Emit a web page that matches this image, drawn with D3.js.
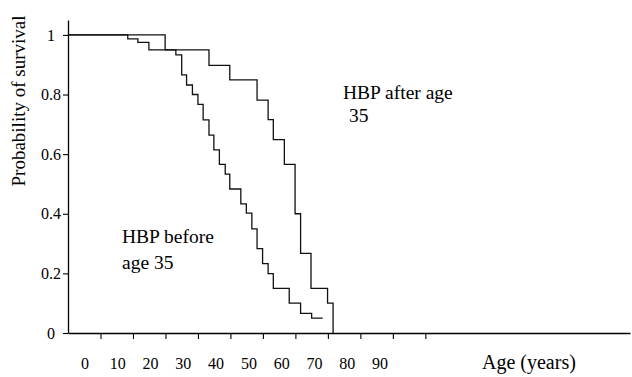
<!DOCTYPE html>
<html lang="en">

<head>
	<meta charset="utf-8">
	<title>Survival by age of HBP onset</title>
	<script src="https://d3js.org/d3.v7.min.js"></script>
	<style>
		body { margin: 0; background: #fff; }
	</style>
</head>

<body>
	<svg id="chart" width="632" height="377"></svg>

	<script type="text/javascript">
		// ages at which survival steps down, and survival after each step
		var afterAges = [0, 29.9, 43.4, 49.8, 58.2, 61.6, 63.2, 66.6, 69.9, 71.6, 74.8, 79.9, 81.6];
		var afterSurv = [1, 0.95, 0.898, 0.849, 0.781, 0.716, 0.649, 0.566, 0.40, 0.267, 0.15, 0.10, 0];

		var beforeAges = [0, 18.4, 21.5, 24.9, 33.2, 35.0, 36.5, 38.3, 40.0, 41.6, 43.4, 44.9, 46.6, 48.4,
			49.8, 53.2, 54.9, 56.6, 58.2, 59.9, 61.6, 63.2, 68.1, 71.6, 75.0, 78.4];
		var beforeSurv = [1, 0.987, 0.975, 0.95, 0.933, 0.866, 0.832, 0.80, 0.767, 0.715, 0.664, 0.614, 0.566, 0.533,
			0.483, 0.433, 0.402, 0.349, 0.283, 0.233, 0.199, 0.15, 0.10, 0.066, 0.05, 0.05];

		// axis ticks and labels
		var xTicks = [10, 20, 30, 40, 50, 60, 70, 80, 90, 100, 110];
		var xLabels = [0, 10, 20, 30, 40, 50, 60, 70, 80, 90];
		var yTicks = [0, 0.2, 0.4, 0.6, 0.8, 1];
		var yLabels = ["0", "0.2", "0.4", "0.6", "0.8", "1"];

		var serif = "'Liberation Serif', 'Times New Roman', serif";

		//******************Init canvas*********************//
		var svg = d3.select("#chart");

		var x = d3.scaleLinear()
			.domain([0, 173])
			.range([68, 630]);

		var y = d3.scaleLinear()
			.domain([0, 1.05])
			.range([333, 20]);

		// the age labels sit on their own spacing, not under the ticks
		var xLabelScale = d3.scaleLinear()
			.domain([0, 90])
			.range([85, 380]);

		// x axis
		var gx = svg.append("g")
			.attr("transform", "translate(0," + y(0) + ")")
			.call(d3.axisBottom(x)
				.tickValues(xTicks)
				.tickFormat("")
				.tickSize(6)
				.tickSizeOuter(0));
		gx.select(".domain").attr("stroke-width", 1.3);
		gx.selectAll(".tick line").attr("stroke-width", 1.1);

		svg.append("g")
			.selectAll("text")
			.data(xLabels)
			.enter()
			.append("text")
			.attr("x", function (d) { return xLabelScale(d); })
			.attr("y", 369)
			.attr("text-anchor", "middle")
			.style("font-family", serif)
			.style("font-size", "16px")
			.text(function (d) { return d; });

		// y axis
		var gy = svg.append("g")
			.attr("transform", "translate(" + x(0) + ",0)")
			.call(d3.axisLeft(y)
				.tickValues(yTicks)
				.tickFormat(function (d, i) { return yLabels[i]; })
				.tickSize(5)
				.tickSizeOuter(0));
		gy.select(".domain").attr("stroke-width", 1.3);
		gy.selectAll(".tick line").attr("stroke-width", 1.1);
		gy.selectAll(".tick text")
			.attr("x", -17)
			.attr("text-anchor", "middle")
			.style("font-family", serif)
			.style("font-size", "16px");

		//******************Curves*********************//
		var line = d3.line()
			.x(function (d) { return x(d[0]); })
			.y(function (d) { return y(d[1]); })
			.curve(d3.curveStepAfter);

		svg.append("path")
			.datum(d3.zip(beforeAges, beforeSurv))
			.attr("d", line)
			.attr("fill", "none")
			.attr("stroke", "#111")
			.attr("stroke-width", 1.3);

		svg.append("path")
			.datum(d3.zip(afterAges, afterSurv))
			.attr("d", line)
			.attr("fill", "none")
			.attr("stroke", "#111")
			.attr("stroke-width", 1.3);

		//******************Texts*********************//
		function addText(tx, ty, size, str) {
			return svg.append("text")
				.attr("x", tx)
				.attr("y", ty)
				.style("font-family", serif)
				.style("font-size", size + "px")
				.style("fill", "#000")
				.text(str);
		}

		svg.append("text")
			.attr("transform", "translate(25,101) rotate(-90)")
			.attr("text-anchor", "middle")
			.style("font-family", serif)
			.style("font-size", "19px")
			.text("Probability of survival");

		addText(482, 369, 20, "Age (years)");
		addText(343, 99, 19.5, "HBP after age");
		addText(349, 122, 19.5, "35");
		addText(122, 243, 19.5, "HBP before");
		addText(122, 269, 19.5, "age 35");
	</script>

</body>

</html>
